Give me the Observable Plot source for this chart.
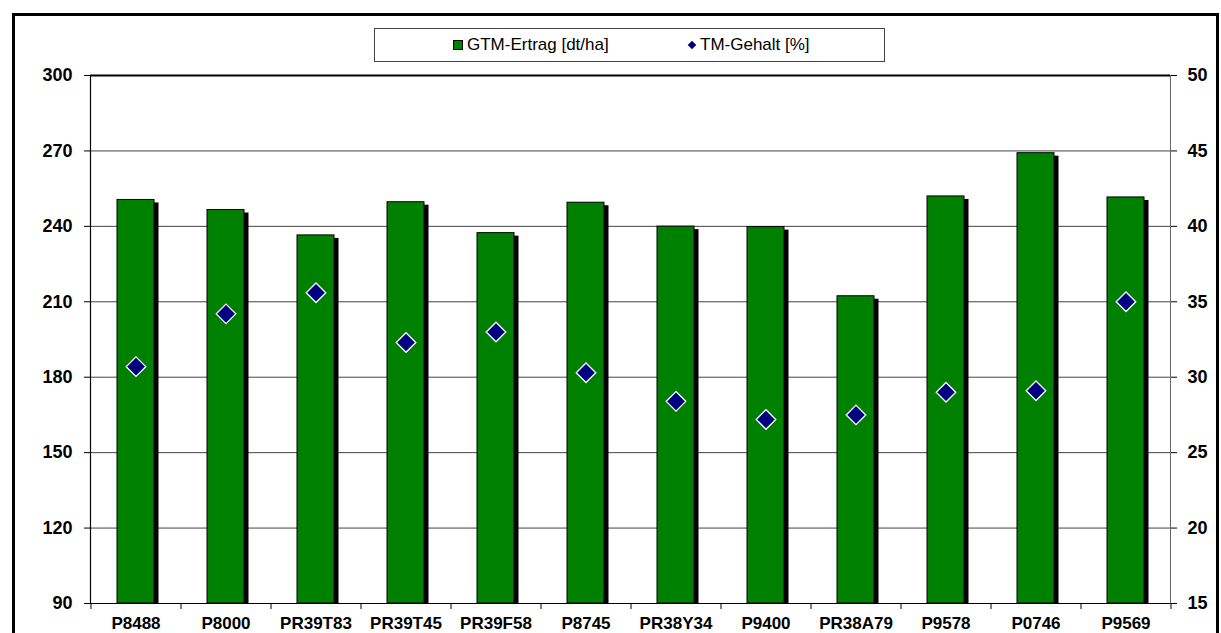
<!DOCTYPE html>
<html>
<head>
<meta charset="utf-8">
<script src="https://cdn.jsdelivr.net/npm/d3@7"></script>
<script src="https://cdn.jsdelivr.net/npm/@observablehq/plot@0.6"></script>
<style>
  html, body { margin: 0; padding: 0; background: #fff; }
  #wrap { position: relative; width: 1221px; height: 633px; overflow: hidden; font-family: "Liberation Sans", Arial, sans-serif; }
  #border { position: absolute; left: 12px; top: 13px; width: 1207px; height: 660px; border: 3px solid #000; box-sizing: border-box; }
  #legend { position: absolute; left: 374px; top: 28px; width: 511px; height: 34px; border: 1px solid #444; box-sizing: border-box; background: #fff; font-size: 17px; color: #000; }
  #legend .item { position: absolute; top: 0; height: 32px; display: flex; align-items: center; }
  #legend .sw { width: 8px; height: 8px; background: #008000; border: 1px solid #000; margin-right: 4px; }
  #legend .dia { width: 6px; height: 6px; background: #000080; transform: rotate(45deg); margin-right: 5px; }
  #chart { position: absolute; left: 0; top: 0; }
  #chart svg { display: block; }
</style>
</head>
<body>
<div id="wrap">
  <div id="border"></div>
  <div id="chart"></div>
  <div id="legend"></div>
</div>
<script>
const categories = ["P8488","P8000","PR39T83","PR39T45","PR39F58","P8745","PR38Y34","P9400","PR38A79","P9578","P0746","P9569"];
const gtmErtrag = [250.5, 246.5, 236.4, 249.6, 237.3, 249.4, 239.9, 239.7, 212.2, 251.9, 269.1, 251.5];
const tmGehalt  = [30.7, 34.2, 35.6, 32.3, 33.0, 30.3, 28.4, 27.2, 27.5, 29.0, 29.1, 35.0];
const leftTicks  = [90, 120, 150, 180, 210, 240, 270, 300];
const rightTicks = [15, 20, 25, 30, 35, 40, 45, 50];
const seriesNames = ["GTM-Ertrag [dt/ha]", "TM-Gehalt [%]"];

// map right-axis values (15..50) onto left-axis domain (90..300)
const lMin = leftTicks[0], lMax = leftTicks[leftTicks.length - 1];
const rMin = rightTicks[0], rMax = rightTicks[rightTicks.length - 1];
const toLeft = v => lMin + (v - rMin) * (lMax - lMin) / (rMax - rMin);
const toRight = v => rMin + (v - lMin) * (rMax - rMin) / (lMax - lMin);

const data = categories.map((c, i) => ({cat: c, gtm: gtmErtrag[i], tm: tmGehalt[i], tmL: toLeft(tmGehalt[i])}));

const font = {fontSize: 18, fontWeight: "bold"};

const chart = Plot.plot({
  width: 1221,
  height: 633,
  marginTop: 75,
  marginLeft: 90,
  marginRight: 51,
  marginBottom: 30,
  style: {fontFamily: "'Liberation Sans', Arial, sans-serif", background: "transparent", color: "#000", overflow: "visible"},
  x: {domain: categories, paddingInner: 0.59, paddingOuter: 0.295, label: null},
  y: {domain: [lMin, lMax], label: null},
  marks: [
    Plot.ruleY(leftTicks.slice(1, -1), {stroke: "#444", strokeWidth: 1}),
    Plot.barY(data, {x: "cat", y1: lMin, y2: "gtm", fill: "#000", dx: 4.5, dy: 3, insetBottom: 3}),
    Plot.barY(data, {x: "cat", y1: lMin, y2: "gtm", fill: "#008000", stroke: "#000", strokeWidth: 1}),
    Plot.frame({anchor: "left", stroke: "#000", strokeWidth: 1.2}),
    Plot.frame({anchor: "right", stroke: "#666", strokeWidth: 1}),
    Plot.ruleY([lMax], {stroke: "#000", strokeWidth: 2}),
    Plot.ruleY([lMin], {stroke: "#000", strokeWidth: 1.2}),
    Plot.axisY(leftTicks, {anchor: "left", tickSize: 6, tickPadding: 12, label: null, ...font}),
    Plot.axisY(leftTicks, {anchor: "right", tickSize: 6, tickPadding: 11, label: null, tickFormat: d => String(toRight(d)), ...font}),
    Plot.axisX(categories, {anchor: "bottom", tickSize: 6, tickFormat: () => "", dx: 45, label: null}),
    Plot.axisX([categories[0]], {anchor: "bottom", tickSize: 6, tickFormat: () => "", dx: -45, label: null}),
    Plot.axisX(categories, {anchor: "bottom", tickSize: 0, tickPadding: 13, label: null, fontSize: 17, fontWeight: "bold"}),
    Plot.dot(data, {x: "cat", y: "tmL", symbol: "diamond2", r: 8.8, fill: "#000080", stroke: "#fff", strokeWidth: 1.3})
  ]
});
document.getElementById("chart").appendChild(chart);

// legend
const legend = document.getElementById("legend");
legend.innerHTML =
  `<div class="item" style="left:78px"><span class="sw"></span><span>${seriesNames[0]}</span></div>` +
  `<div class="item" style="left:314px"><span class="dia"></span><span>${seriesNames[1]}</span></div>`;
</script>
</body>
</html>
